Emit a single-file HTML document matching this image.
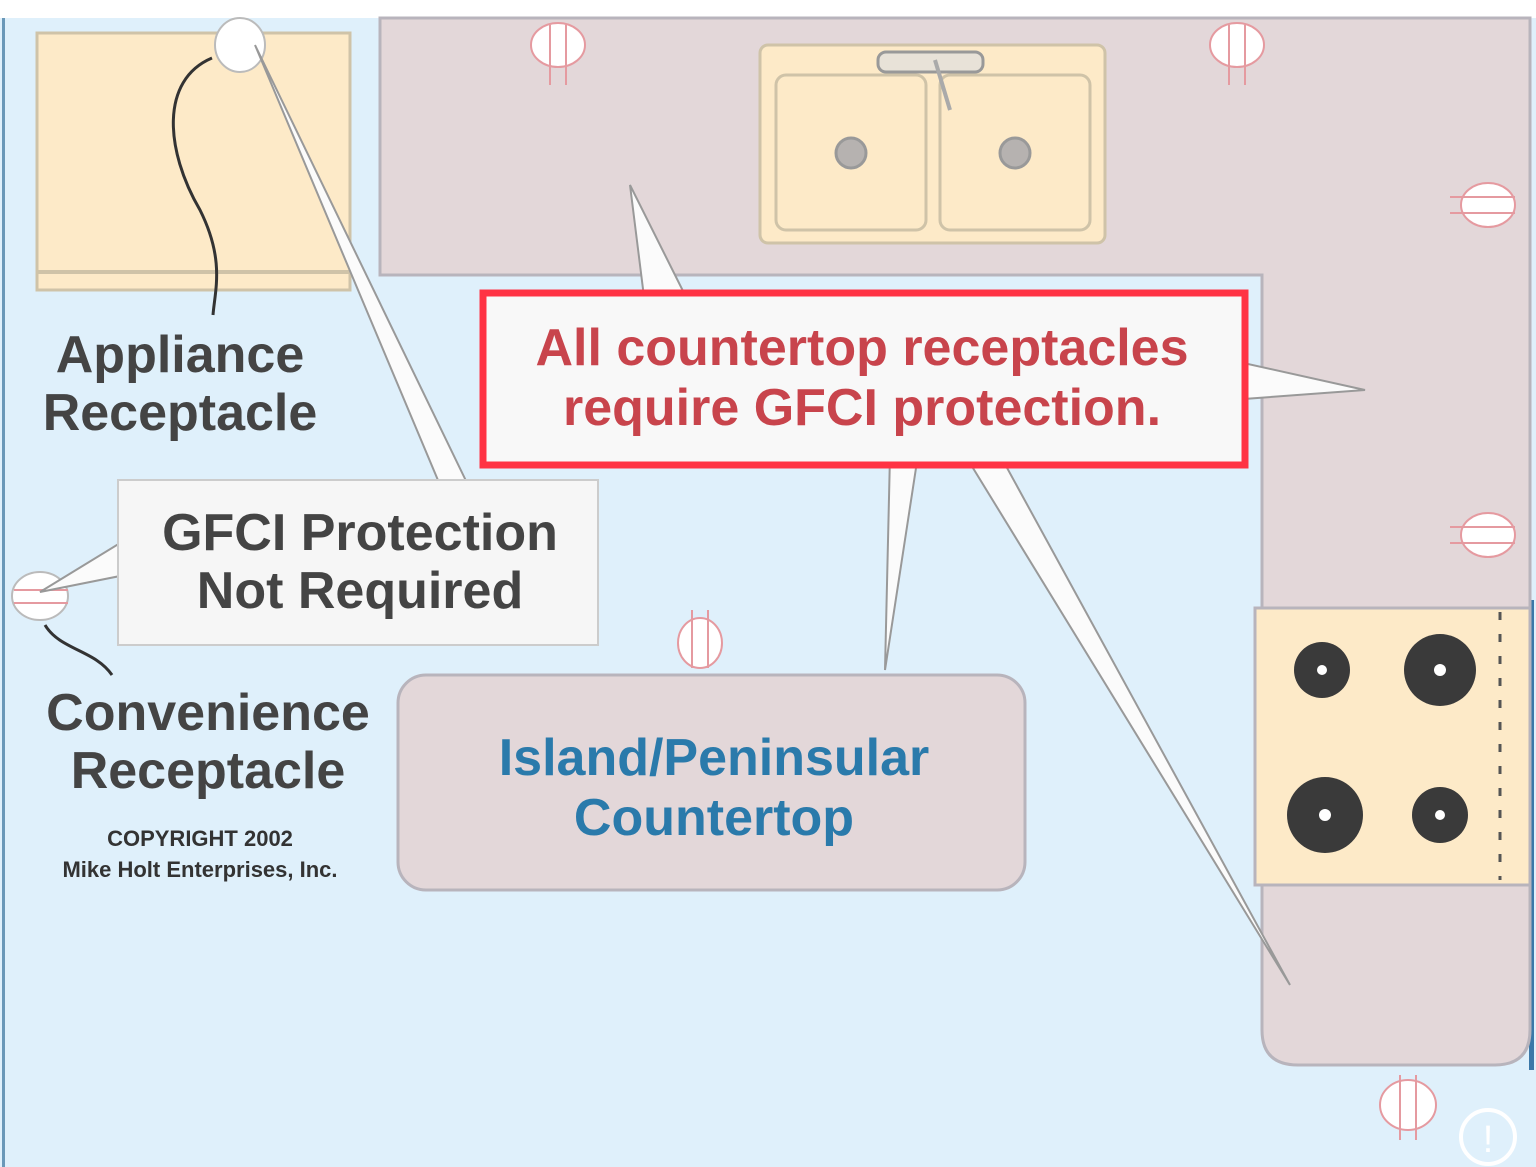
<!DOCTYPE html>
<html><head><meta charset="utf-8"><style>
html,body{margin:0;padding:0;background:#fff}
svg{display:block}
text{font-family:"Liberation Sans",Arial,sans-serif}
</style></head><body>
<svg width="1536" height="1167" viewBox="0 0 1536 1167" xmlns="http://www.w3.org/2000/svg">
<rect x="0" y="0" width="1536" height="1167" fill="#ffffff"/>
<rect x="0" y="18" width="1536" height="1149" fill="#dff0fb"/>
<rect x="2" y="18" width="3" height="1149" fill="#6a98b8"/>
<rect x="1529" y="600" width="5" height="470" fill="#3c78a8"/>
<!-- countertop L -->
<path d="M380 18 H1530 V1030 Q1530 1065 1495 1065 H1298 Q1262 1065 1262 1030 V275 H380 Z" fill="#e3d7d9" stroke="#b8b4bc" stroke-width="3"/>
<!-- fridge -->
<rect x="37" y="33" width="313" height="257" fill="#fdeac8" stroke="#cfc3a8" stroke-width="3"/>
<line x1="37" y1="272" x2="350" y2="272" stroke="#cfc3a8" stroke-width="4"/>
<!-- sink -->
<rect x="760" y="45" width="345" height="198" rx="8" fill="#fdeac8" stroke="#cfc3a8" stroke-width="3"/>
<rect x="776" y="75" width="150" height="155" rx="10" fill="#fdeac8" stroke="#cfc3a8" stroke-width="3"/>
<rect x="940" y="75" width="150" height="155" rx="10" fill="#fdeac8" stroke="#cfc3a8" stroke-width="3"/>
<circle cx="851" cy="153" r="15" fill="#b6b2b0" stroke="#999" stroke-width="3"/>
<circle cx="1015" cy="153" r="15" fill="#b6b2b0" stroke="#999" stroke-width="3"/>
<rect x="878" y="52" width="105" height="20" rx="8" fill="#e8e2d8" stroke="#999" stroke-width="3"/>
<line x1="935" y1="60" x2="950" y2="110" stroke="#aaa" stroke-width="4"/>
<!-- stove -->
<rect x="1255" y="608" width="275" height="277" fill="#fdeac8" stroke="#b8b4bc" stroke-width="3"/>
<line x1="1500" y1="612" x2="1500" y2="880" stroke="#555" stroke-width="3" stroke-dasharray="8 14"/>
<g fill="#3a3a3a"><circle cx="1322" cy="670" r="28"/><circle cx="1440" cy="670" r="36"/><circle cx="1325" cy="815" r="38"/><circle cx="1440" cy="815" r="28"/></g>
<g fill="#fff"><circle cx="1322" cy="670" r="5"/><circle cx="1440" cy="670" r="6"/><circle cx="1325" cy="815" r="6"/><circle cx="1440" cy="815" r="5"/></g>
<!-- receptacles -->
<g fill="#fff" stroke="#e59aa0" stroke-width="2">
<ellipse cx="558" cy="45" rx="27" ry="22"/><ellipse cx="1237" cy="45" rx="27" ry="22"/>
<ellipse cx="1488" cy="205" rx="27" ry="22"/><ellipse cx="1488" cy="535" rx="27" ry="22"/>
<ellipse cx="700" cy="643" rx="22" ry="25"/><ellipse cx="1408" cy="1105" rx="28" ry="25"/>
</g>
<g stroke="#e59aa0" stroke-width="2">
<line x1="550" y1="25" x2="550" y2="85"/><line x1="566" y1="25" x2="566" y2="85"/>
<line x1="1229" y1="25" x2="1229" y2="85"/><line x1="1245" y1="25" x2="1245" y2="85"/>
<line x1="1450" y1="197" x2="1515" y2="197"/><line x1="1450" y1="213" x2="1515" y2="213"/>
<line x1="1450" y1="527" x2="1515" y2="527"/><line x1="1450" y1="543" x2="1515" y2="543"/>
<line x1="692" y1="610" x2="692" y2="668"/><line x1="708" y1="610" x2="708" y2="668"/>
<line x1="1400" y1="1075" x2="1400" y2="1140"/><line x1="1416" y1="1075" x2="1416" y2="1140"/>
</g>
<ellipse cx="240" cy="45" rx="25" ry="27" fill="#fff" stroke="#bbb" stroke-width="2"/>
<ellipse cx="40" cy="596" rx="28" ry="24" fill="#fff" stroke="#bbb" stroke-width="2"/>
<line x1="14" y1="590" x2="68" y2="590" stroke="#e59aa0" stroke-width="2"/><line x1="14" y1="603" x2="68" y2="603" stroke="#e59aa0" stroke-width="2"/>
<!-- cords -->
<path d="M212 58 C160 80 165 150 200 210 C225 260 215 290 213 315" fill="none" stroke="#333" stroke-width="3"/>
<path d="M45 625 C60 650 95 650 112 675" fill="none" stroke="#333" stroke-width="3"/>
<!-- island -->
<rect x="398" y="675" width="627" height="215" rx="28" fill="#e3d7d9" stroke="#b8b4bc" stroke-width="3"/>
<!-- callout tails -->
<g fill="#fbfbfb" stroke="#999" stroke-width="2">
<polygon points="255,45 440,485 468,485"/>
<polygon points="630,185 645,305 690,305"/>
<polygon points="1365,390 1230,360 1230,400"/>
<polygon points="885,670 890,455 918,455"/>
<polygon points="1290,985 965,455 1000,455"/>
<polygon points="40,592 125,540 125,575"/>
</g>
<!-- GFCI box -->
<rect x="118" y="480" width="480" height="165" fill="#f6f6f6" stroke="#ccc" stroke-width="2"/>
<text x="360" y="550" font-size="52" font-weight="bold" fill="#444" text-anchor="middle">GFCI Protection</text>
<text x="360" y="608" font-size="52" font-weight="bold" fill="#444" text-anchor="middle">Not Required</text>
<!-- main callout -->
<rect x="483" y="293" width="762" height="172" fill="#f8f8f8" stroke="#ff3344" stroke-width="7"/>
<text x="862" y="365" font-size="52" font-weight="bold" fill="#c8444c" text-anchor="middle">All countertop receptacles</text>
<text x="862" y="425" font-size="52" font-weight="bold" fill="#c8444c" text-anchor="middle">require GFCI protection.</text>
<!-- labels -->
<text x="180" y="372" font-size="52" font-weight="bold" fill="#444" text-anchor="middle">Appliance</text>
<text x="180" y="430" font-size="52" font-weight="bold" fill="#444" text-anchor="middle">Receptacle</text>
<text x="208" y="730" font-size="52" font-weight="bold" fill="#444" text-anchor="middle">Convenience</text>
<text x="208" y="788" font-size="52" font-weight="bold" fill="#444" text-anchor="middle">Receptacle</text>
<text x="200" y="846" font-size="22" font-weight="bold" fill="#333" text-anchor="middle">COPYRIGHT 2002</text>
<text x="200" y="877" font-size="22" font-weight="bold" fill="#333" text-anchor="middle">Mike Holt Enterprises, Inc.</text>
<text x="714" y="775" font-size="52" font-weight="bold" fill="#2a7aab" text-anchor="middle">Island/Peninsular</text>
<text x="714" y="835" font-size="52" font-weight="bold" fill="#2a7aab" text-anchor="middle">Countertop</text>
<!-- info icon -->
<circle cx="1488" cy="1137" r="27" fill="none" stroke="#fff" stroke-width="4"/>
<text x="1488" y="1152" font-size="38" fill="#fff" text-anchor="middle">!</text>
</svg>
</body></html>
